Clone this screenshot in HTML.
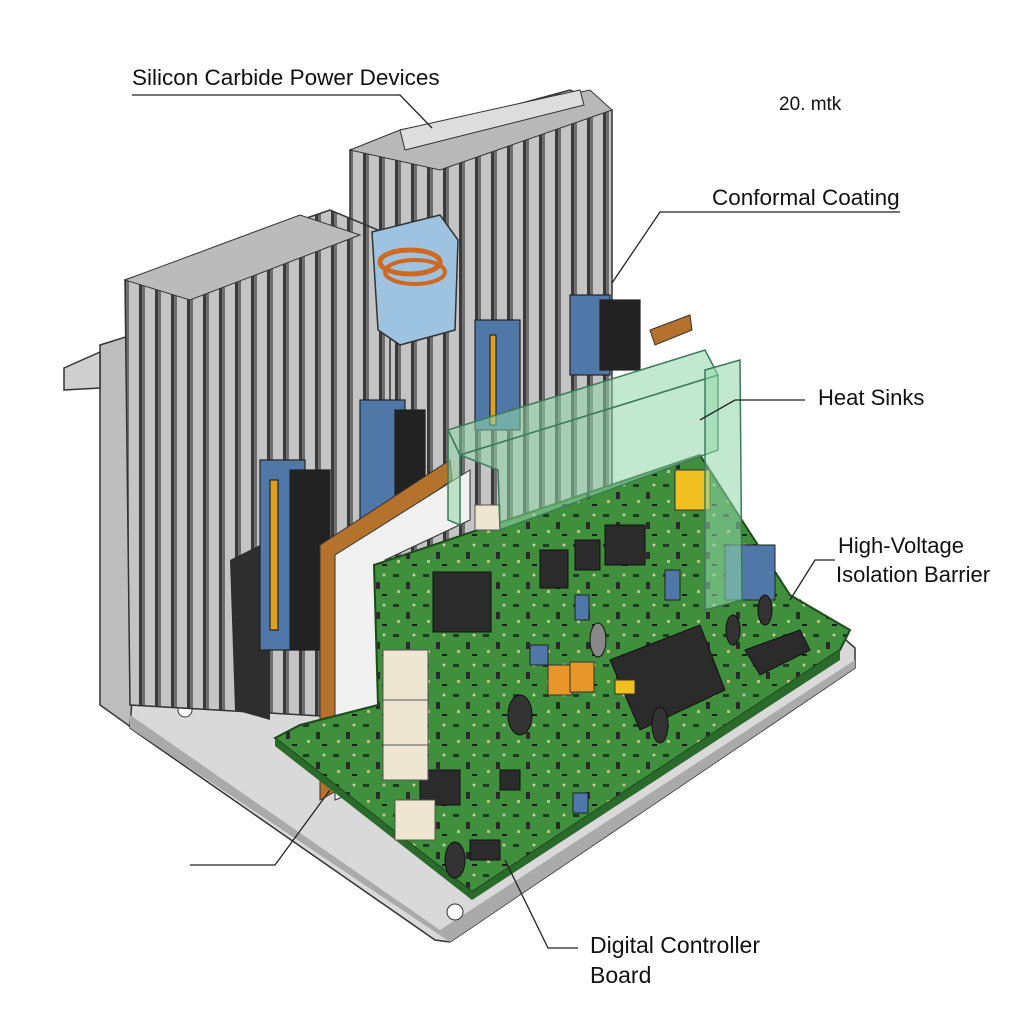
<!DOCTYPE html>
<html><head><meta charset="utf-8"><style>
html,body{margin:0;padding:0;background:#fff}
svg{display:block}
text{font-family:"Liberation Sans",sans-serif;fill:#111}
</style></head><body>
<svg width="1024" height="1024" viewBox="0 0 1024 1024" xmlns="http://www.w3.org/2000/svg">
<defs>
<pattern id="fins" width="16" height="40" patternUnits="userSpaceOnUse">
<rect width="16" height="40" fill="#6e6e6e"/>
<rect x="1" width="10" height="40" fill="#c4c4c4"/>
<rect x="11" width="3" height="40" fill="#3a3a3a"/>
</pattern>
<pattern id="pcb" width="30" height="30" patternUnits="userSpaceOnUse">
<rect width="30" height="30" fill="#3f8f3c"/>
<rect x="3" y="4" width="6" height="3" fill="#1f3a22"/>
<rect x="16" y="12" width="4" height="7" fill="#2a2a2a"/>
<rect x="7" y="20" width="3" height="3" fill="#b9c27a"/>
<rect x="22" y="24" width="5" height="2" fill="#1b1b1b"/>
<circle cx="24" cy="5" r="1.5" fill="#c8c8a0"/>
</pattern>
</defs>
<!-- back vertical plate -->
<polygon points="100,345 132,335 135,730 100,705" fill="#bdbdbd" stroke="#333" stroke-width="1.5"/>
<polygon points="64,368 100,352 100,388 64,390" fill="#cfcfcf" stroke="#333" stroke-width="1.5"/>
<!-- base plate -->
<polygon points="132,700 800,600 855,648 855,668 450,942 435,940 130,728" fill="#d9d9d9" stroke="#333" stroke-width="1.5"/>
<polygon points="130,715 440,930 855,660 855,668 450,942 130,728" fill="#aaa"/>
<circle cx="185" cy="710" r="7" fill="#fff" stroke="#333"/>
<circle cx="455" cy="912" r="8" fill="#fff" stroke="#333"/>
<circle cx="828" cy="650" r="6" fill="#fff" stroke="#333"/>
<!-- middle heat sink -->
<polygon points="350,150 570,90 612,110 612,620 350,640" fill="url(#fins)" stroke="#333" stroke-width="1.5"/>
<polygon points="350,150 400,130 590,90 612,110 440,170" fill="#b8b8b8" stroke="#333"/>
<polygon points="400,130 580,90 584,105 405,150" fill="#ddd" stroke="#333"/>
<!-- left heat sink -->
<polygon points="125,280 330,210 390,235 390,720 130,705" fill="url(#fins)" stroke="#333" stroke-width="1.5"/>
<polygon points="125,280 300,215 360,235 190,300" fill="#bbb" stroke="#333"/>
<polygon points="230,560 270,540 270,720 235,710" fill="#2e2e2e"/>
<!-- transformer -->
<polygon points="372,232 440,215 458,240 455,330 400,345 378,330" fill="#9dc3e0" stroke="#333" stroke-width="1.5"/>
<ellipse cx="410" cy="262" rx="30" ry="12" fill="none" stroke="#d06820" stroke-width="5"/>
<ellipse cx="415" cy="272" rx="30" ry="12" fill="none" stroke="#d06820" stroke-width="4"/>
<!-- power modules -->
<g stroke="#222" stroke-width="1.2">
<rect x="260" y="460" width="45" height="190" fill="#4f78a8"/>
<rect x="270" y="480" width="8" height="150" fill="#e0a020"/>
<rect x="290" y="470" width="40" height="180" fill="#222"/>
<rect x="360" y="400" width="45" height="130" fill="#4f78a8"/>
<rect x="395" y="410" width="30" height="120" fill="#222"/>
<rect x="475" y="320" width="45" height="110" fill="#4f78a8"/>
<rect x="490" y="335" width="6" height="90" fill="#e0a020"/>
<rect x="570" y="295" width="40" height="80" fill="#4f78a8"/>
<rect x="600" y="300" width="40" height="70" fill="#222"/>
</g>
<!-- brown & white barrier sheets -->
<polygon points="320,545 450,460 452,480 340,560 338,790 320,800" fill="#b5722c" stroke="#333"/>
<polygon points="335,555 470,470 470,520 385,560 385,780 335,800" fill="#f1f1f1" stroke="#333"/>
<polygon points="650,330 690,315 692,330 655,345" fill="#b5722c" stroke="#333"/>
<!-- PCB -->
<polygon points="374,565 700,455 745,525 790,595 850,630 840,650 472,892 275,738 300,725 378,705" fill="url(#pcb)" stroke="#1d4a1d" stroke-width="2"/>
<polygon points="275,738 472,892 840,650 840,660 472,900 275,746" fill="#2a6a2a"/>
<!-- chips -->
<g fill="#2b2b2b" stroke="#111">
<rect x="433" y="572" width="58" height="60"/>
<rect x="540" y="550" width="28" height="38"/>
<rect x="605" y="525" width="40" height="40"/>
<rect x="420" y="770" width="40" height="35"/>
<rect x="575" y="540" width="25" height="30"/>
<polygon points="610,660 700,625 725,690 640,730"/>
<rect x="470" y="840" width="30" height="20"/>
<rect x="500" y="770" width="20" height="20"/>
<polygon points="745,650 800,630 810,650 760,675"/>
</g>
<g fill="#4f78a8" stroke="#222">
<rect x="725" y="545" width="50" height="55"/>
<rect x="575" y="595" width="14" height="25"/>
<rect x="530" y="645" width="18" height="20"/>
<rect x="665" y="570" width="15" height="30"/>
<rect x="573" y="793" width="15" height="20"/>
</g>
<g fill="#e7962a" stroke="#333">
<rect x="548" y="665" width="24" height="30"/>
<rect x="570" y="662" width="24" height="30"/>
<rect x="615" y="680" width="20" height="14" fill="#f0c020"/>
<rect x="675" y="470" width="35" height="40" fill="#f0c020"/>
</g>
<g fill="#333" stroke="#111">
<ellipse cx="520" cy="715" rx="12" ry="20"/><ellipse cx="660" cy="725" rx="8" ry="18"/>
<ellipse cx="455" cy="860" rx="10" ry="18"/><ellipse cx="733" cy="630" rx="7" ry="15"/>
<ellipse cx="765" cy="610" rx="7" ry="15"/><ellipse cx="598" cy="640" rx="8" ry="17" fill="#888"/>
</g>
<g fill="#efe6d2" stroke="#555">
<rect x="383" y="650" width="45" height="50"/><rect x="383" y="700" width="45" height="45"/>
<rect x="383" y="745" width="45" height="35"/><rect x="395" y="800" width="40" height="40"/>
<rect x="475" y="505" width="25" height="25"/>
</g>
<!-- glass box -->
<g fill="#8fd7a8" fill-opacity="0.55" stroke="#3d7a5a" stroke-width="1.5">
<polygon points="448,430 705,350 718,375 460,455"/>
<polygon points="460,455 718,375 718,450 500,530 498,470"/>
<polygon points="448,430 460,455 460,525 448,520"/>
<polygon points="705,370 740,360 742,600 705,610"/>
</g>
<!-- leader lines -->
<g stroke="#222" stroke-width="1.3" fill="none">
<polyline points="132,95 400,95 432,128"/>
<polyline points="900,212 660,212 612,283"/>
<polyline points="805,400 735,400 700,420"/>
<polyline points="835,560 815,560 790,600"/>
<polyline points="578,948 548,948 505,860"/>
<polyline points="190,865 275,865 330,790"/>
</g>
<text x="132" y="85" font-size="22.5">Silicon Carbide Power Devices</text>
<text x="779" y="110" font-size="19">20. mtk</text>
<text x="712" y="205" font-size="22.5">Conformal Coating</text>
<text x="818" y="405" font-size="22">Heat Sinks</text>
<text x="838" y="553" font-size="22">High-Voltage</text>
<text x="836" y="582" font-size="22">Isolation Barrier</text>
<text x="590" y="953" font-size="23">Digital Controller</text>
<text x="590" y="983" font-size="23">Board</text>
</svg>
</body></html>
